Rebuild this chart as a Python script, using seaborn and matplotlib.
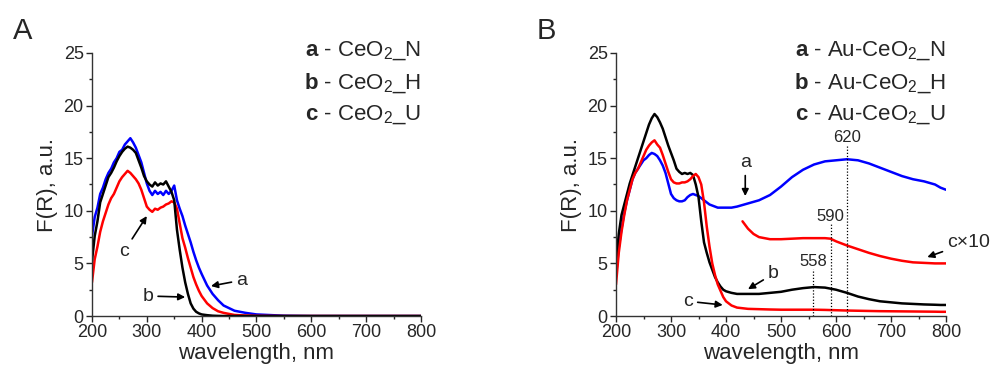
import numpy as np
import pandas as pd
import matplotlib
matplotlib.use("Agg")
import matplotlib.pyplot as plt
import seaborn as sns

# ---- data (wavelength in nm, F(R) in a.u.) ----
wl_uv = [200, 205, 210, 215, 220, 225, 230, 235, 240, 245, 250, 255, 260, 265, 270, 275,
         280, 285, 290, 295, 300, 305, 310, 315, 320, 325, 330, 335, 340, 345, 350, 355,
         360, 365, 370, 375, 380, 385, 390, 395, 400, 410, 420, 430, 440, 460, 480, 500,
         550, 600, 650, 700, 750, 800]

# panel A
A_a = [7.6, 9.4, 10.3, 11.6, 12.2, 13.0, 13.6, 14.0, 14.6, 15.0, 15.6, 15.8, 16.3, 16.6, 16.9, 16.5,
       16.0, 15.3, 14.6, 13.6, 12.6, 11.9, 11.5, 11.9, 11.6, 11.8, 11.5, 11.9, 11.6, 11.9, 12.4, 11.0,
       10.2, 9.5, 8.6, 7.8, 7.0, 6.1, 5.3, 4.6, 4.0, 2.9, 2.1, 1.5, 1.0, 0.5, 0.3, 0.15,
       0.03, 0.0, 0.0, 0.0, 0.0, 0.0]
A_b = [5.2, 7.6, 9.0, 10.8, 11.6, 12.4, 13.2, 13.6, 14.1, 14.7, 15.2, 15.6, 15.9, 16.1, 16.0, 15.8,
       15.5, 14.8, 14.1, 13.3, 12.8, 12.5, 12.3, 12.7, 12.4, 12.6, 12.5, 12.8, 12.3, 11.8, 11.0, 8.2,
       6.3, 4.6, 3.2, 2.1, 1.2, 0.7, 0.4, 0.25, 0.15, 0.08, 0.03, 0.01, 0.0, 0.0, 0.0, 0.0,
       0.0, 0.0, 0.0, 0.0, 0.0, 0.0]
A_c = [3.2, 5.4, 6.6, 8.0, 9.0, 9.8, 10.6, 11.2, 11.6, 12.2, 12.8, 13.2, 13.5, 13.8, 13.6, 13.3,
       13.0, 12.6, 12.0, 11.2, 10.4, 10.1, 9.9, 10.2, 10.1, 10.3, 10.4, 10.6, 10.7, 10.9, 10.8, 10.2,
       8.8, 7.4, 6.5, 5.5, 4.6, 3.7, 3.0, 2.4, 1.9, 1.2, 0.75, 0.45, 0.3, 0.1, 0.05, 0.02,
       0.0, 0.0, 0.0, 0.0, 0.0, 0.0]

wl_vis = [200, 205, 210, 215, 220, 225, 230, 235, 240, 245, 250, 255, 260, 265, 270, 275,
          280, 285, 290, 295, 300, 305, 310, 315, 320, 325, 330, 335, 340, 345, 350, 355,
          360, 365, 370, 375, 380, 385, 390, 395, 400, 410, 420, 440, 460, 480, 500, 520,
          540, 560, 580, 600, 620, 640, 660, 680, 700, 720, 740, 760, 780, 790, 800]

# panel B
B_a = [3.8, 6.5, 8.3, 9.8, 11.0, 12.0, 13.0, 13.6, 14.0, 14.4, 14.8, 15.0, 15.3, 15.5, 15.4, 15.2,
       14.8, 14.3, 13.6, 12.6, 11.6, 11.2, 11.0, 10.9, 10.9, 11.0, 11.3, 11.5, 11.6, 11.5, 11.4, 11.2,
       11.0, 10.8, 10.6, 10.5, 10.4, 10.3, 10.3, 10.3, 10.3, 10.3, 10.4, 10.7, 11.0, 11.5, 12.3, 13.2,
       13.9, 14.4, 14.7, 14.8, 14.9, 14.8, 14.5, 14.1, 13.7, 13.3, 13.0, 12.8, 12.5, 12.2, 12.0]
B_b = [5.0, 7.8, 9.6, 10.6, 11.6, 12.6, 13.4, 14.2, 15.0, 15.8, 16.6, 17.4, 18.2, 18.8, 19.2, 18.9,
       18.4, 17.8, 17.0, 16.2, 15.5, 14.8, 14.0, 13.7, 13.5, 13.6, 13.5, 13.6, 13.4, 12.5, 11.3, 9.0,
       7.0, 6.0, 5.1, 4.4, 3.7, 3.2, 2.8, 2.5, 2.35, 2.2, 2.1, 2.1, 2.1, 2.2, 2.3, 2.5,
       2.65, 2.75, 2.7, 2.5, 2.2, 1.85, 1.6, 1.4, 1.3, 1.2, 1.15, 1.1, 1.07, 1.05, 1.05]
B_c = [3.0, 6.0, 8.0, 9.6, 11.0, 12.0, 13.0, 13.6, 14.0, 14.6, 15.2, 15.8, 16.2, 16.5, 16.7, 16.3,
       16.0, 15.3, 14.5, 13.7, 13.0, 12.7, 12.6, 12.6, 12.7, 12.7, 12.8, 13.0, 13.3, 13.5, 13.2, 12.5,
       10.8, 8.5, 6.6, 5.0, 3.9, 3.0, 2.4, 1.8, 1.4, 1.0, 0.8, 0.68, 0.65, 0.62, 0.6, 0.6,
       0.6, 0.6, 0.58, 0.55, 0.52, 0.5, 0.48, 0.46, 0.45, 0.44, 0.43, 0.42, 0.41, 0.4, 0.4]

wl_c10 = [430, 440, 450, 460, 480, 500, 520, 540, 560, 580, 590, 600, 620, 640, 660, 680, 700,
          720, 740, 760, 780, 800]
B_c10 = [9.0, 8.3, 7.8, 7.5, 7.3, 7.3, 7.35, 7.4, 7.4, 7.4, 7.35, 7.1, 6.7, 6.35, 6.0, 5.7, 5.45,
         5.25, 5.1, 5.05, 5.0, 5.0]

peaks = [558, 590, 620]
peak_tops = [4.5, 8.8, 16.3]

legend_A = [r"$\mathbf{a}$ - CeO$_2$_N", r"$\mathbf{b}$ - CeO$_2$_H", r"$\mathbf{c}$ - CeO$_2$_U"]
legend_B = [r"$\mathbf{a}$ - Au-CeO$_2$_N", r"$\mathbf{b}$ - Au-CeO$_2$_H", r"$\mathbf{c}$ - Au-CeO$_2$_U"]

sns.set_style("ticks")
plt.rcParams["font.family"] = ["Liberation Sans", "DejaVu Sans"]
plt.rcParams["mathtext.fontset"] = "custom"
plt.rcParams["mathtext.rm"] = "Liberation Sans"
plt.rcParams["mathtext.bf"] = "Liberation Sans:bold"

fig = plt.figure(figsize=(9.91, 3.69), dpi=100)
axA = fig.add_axes([0.0928, 0.1436, 0.332, 0.7128])
axB = fig.add_axes([0.6216, 0.1436, 0.333, 0.7128])

blue, black, red = "#0000ff", "#000000", "#ff0000"

for ax, wl, series in [(axA, wl_uv, [(A_a, blue), (A_c, red), (A_b, black)]),
                       (axB, wl_vis, [(B_a, blue), (B_b, black), (B_c, red)])]:
    for vals, col in series:
        df = pd.DataFrame({"wl": wl, "F": vals})
        sns.lineplot(data=df, x="wl", y="F", ax=ax, color=col, lw=1.8,
                     estimator=None, sort=False)

df = pd.DataFrame({"wl": wl_c10, "F": B_c10})
sns.lineplot(data=df, x="wl", y="F", ax=axB, color=red, lw=1.8, estimator=None, sort=False)

axB.vlines(peaks, 0, peak_tops, colors="black", linestyles=(0, (1, 1.5)), lw=0.9)
for p, t in zip(peaks, peak_tops):
    axB.text(p, t + 0.65, str(p), ha="center", va="center", fontsize=12)

for ax, legend in [(axA, legend_A), (axB, legend_B)]:
    ax.set_xlim(200, 800)
    ax.set_ylim(0, 25)
    ax.set_xticks([200, 300, 400, 500, 600, 700, 800])
    ax.set_xticks([250, 350, 450, 550, 650, 750], minor=True)
    ax.set_yticks([0, 5, 10, 15, 20, 25])
    ax.set_yticks([2.5, 7.5, 12.5, 17.5, 22.5], minor=True)
    ax.tick_params(which="major", length=4, width=1, labelsize=13, pad=2)
    ax.tick_params(which="minor", length=2.5, width=1)
    ax.set_xlabel("wavelength, nm", fontsize=16, labelpad=1)
    ax.set_ylabel("F(R), a.u.", fontsize=16, labelpad=4)
    for s in ["left", "bottom"]:
        ax.spines[s].set_linewidth(1)
        ax.spines[s].set_color("#333333")
    sns.despine(ax=ax)
    for txt, yy in zip(legend, [0.99, 0.865, 0.745]):
        ax.text(1.0, yy, txt, transform=ax.transAxes, ha="right", va="baseline", fontsize=16)

arrow = dict(arrowstyle="-|>", color="black", lw=1.2, mutation_scale=10, shrinkA=1, shrinkB=0)
axA.annotate("a", xy=(417, 2.85), xytext=(463, 3.4), fontsize=14, ha="left", va="center", arrowprops=arrow)
axA.annotate("b", xy=(370, 1.8), xytext=(312, 1.9), fontsize=14, ha="right", va="center", arrowprops=arrow)
axA.annotate("c", xy=(300, 9.5), xytext=(258, 6.1), fontsize=14, ha="center", va="center", arrowprops=arrow)

axB.annotate("a", xy=(435, 11.4), xytext=(435, 14.6), fontsize=14, ha="center", va="center", arrowprops=arrow)
axB.annotate("b", xy=(440, 2.55), xytext=(476, 4.0), fontsize=14, ha="left", va="center", arrowprops=arrow)
axB.annotate("c", xy=(394, 1.05), xytext=(340, 1.4), fontsize=14, ha="right", va="center", arrowprops=arrow)
axB.annotate("c\u00d710", xy=(766, 5.6), xytext=(802, 7.0), fontsize=14, ha="left", va="center",
             annotation_clip=False, arrowprops=arrow)

fig.text(23 / 991, 1 - 31 / 369, "A", fontsize=21, ha="center", va="center")
fig.text(546 / 991, 1 - 31 / 369, "B", fontsize=21, ha="center", va="center")

fig.savefig("out.png", dpi=100)
